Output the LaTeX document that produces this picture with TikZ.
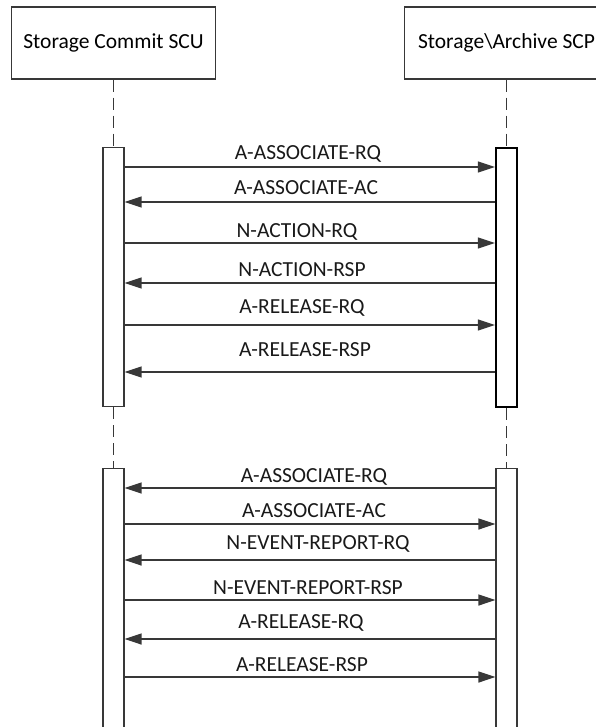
\documentclass[tikz,border=0pt]{standalone}
\usepackage{fontspec}
\setmainfont{Carlito}
\usetikzlibrary{arrows.meta}
\definecolor{linegray}{HTML}{383838}
\tikzset{
  hdr/.style={draw=linegray, line width=1.3pt, minimum width=204pt, minimum height=72pt, inner sep=0pt},
  act/.style={draw=linegray, line width=1.1pt, fill=white, minimum width=21pt, inner sep=0pt, anchor=north},
  life/.style={draw=linegray, line width=1.8pt, dash pattern=on 12pt off 6pt},
  msgr/.style={draw=linegray, line width=1.3pt, -{Triangle[length=17pt,width=11pt]}},
  msgl/.style={draw=linegray, line width=1.3pt, {Triangle[length=17pt,width=11pt]}-},
  lbl/.style={anchor=base, inner sep=0pt, text=black!90},
}
\begin{document}
\begin{tikzpicture}[x=1pt, y=1pt, font=\fontsize{21.5}{26}\selectfont]
  \def\xa{113.5} \def\xb{506.5}
  \useasboundingbox (0,0) rectangle (596,-727);
  \node[hdr] (scu) at (\xa,-43) {Storage Commit SCU};
  \node[hdr] (scp) at (\xb,-43) {Storage\textbackslash Archive SCP};
  % activations
  \node[act, minimum height=259pt] (a1) at (\xa,-147) {};
  \node[act, minimum height=259pt, line width=2.2pt, draw=black] (b1) at (\xb,-147) {};
  \node[act, minimum height=270pt] (a2) at (\xa,-468) {};
  \node[act, minimum height=270pt] (b2) at (\xb,-468) {};
  % lifelines
  \draw[life] (scu) -- (a1);
  \draw[life] (scp) -- (b1);
  \draw[life] (a1) -- (a2);
  \draw[life] (b1) -- (b2);
  % first association
  \foreach \i/\y/\x/\b/\txt/\d in {1/167/308/160/A-ASSOCIATE-RQ/msgr, 2/202/306/195/A-ASSOCIATE-AC/msgl,
      3/243/297/237/N-ACTION-RQ/msgr, 4/283/302/276/N-ACTION-RSP/msgl,
      5/325/302/313/A-RELEASE-RQ/msgr, 6/372/305/356/A-RELEASE-RSP/msgl}{
    \coordinate (m\i) at (0,-\y);
    \draw[\d] (a1.east |- m\i) -- (b1.west |- m\i);
    \node[lbl] (t\i) at (\x,-\b) {\txt};
  }
  % second association
  \foreach \i/\y/\x/\b/\txt/\d in {7/488/314/482/A-ASSOCIATE-RQ/msgl, 8/524/314/517/A-ASSOCIATE-AC/msgr,
      9/560/318/549/N-EVENT-REPORT-RQ/msgl, 10/600/308/594/N-EVENT-REPORT-RSP/msgr,
      11/639/301/628/A-RELEASE-RQ/msgl, 12/677/302/671/A-RELEASE-RSP/msgr}{
    \coordinate (m\i) at (0,-\y);
    \draw[\d] (a2.east |- m\i) -- (b2.west |- m\i);
    \node[lbl] (t\i) at (\x,-\b) {\txt};
  }
\end{tikzpicture}
\end{document}
